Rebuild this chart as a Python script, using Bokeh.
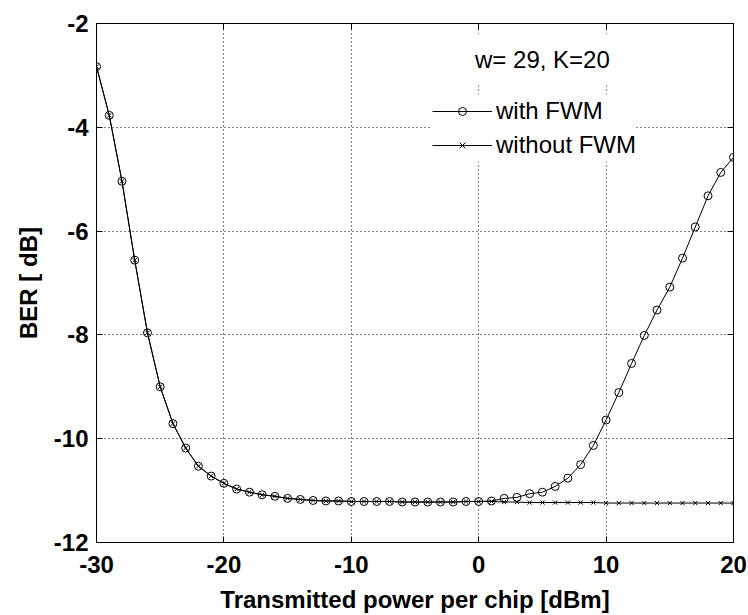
from bokeh.plotting import figure
from bokeh.models import (LinearAxis, Legend, LegendItem, Label, FixedTicker,
                          Range1d, PrintfTickFormatter)
from bokeh.embed import file_html
from bokeh.resources import INLINE

# ---- data ----
power_dbm = list(range(-30, 21))
ber_with_fwm = [
    -2.83, -3.77, -5.04, -6.56, -7.96, -9.00, -9.71, -10.18, -10.53, -10.72,
    -10.86, -10.97, -11.03, -11.08, -11.11, -11.15, -11.17, -11.19,
    -11.20, -11.20, -11.21, -11.21, -11.21, -11.21, -11.22, -11.22, -11.22,
    -11.22, -11.22, -11.21, -11.21, -11.20,
    -11.15, -11.13, -11.06, -11.03, -10.92, -10.76, -10.50, -10.13, -9.64,
    -9.11, -8.55, -8.01, -7.52, -7.08, -6.52, -5.92, -5.32, -4.87, -4.58,
]
ber_without_fwm = [
    -2.83, -3.77, -5.04, -6.56, -7.96, -9.00, -9.71, -10.18, -10.53, -10.72,
    -10.86, -10.97, -11.03, -11.08, -11.11, -11.15, -11.17, -11.19,
    -11.20, -11.20, -11.21, -11.21, -11.21, -11.21, -11.22, -11.22, -11.22,
    -11.22, -11.22, -11.21, -11.21, -11.21,
    -11.22, -11.22, -11.23, -11.23, -11.23, -11.23, -11.23, -11.23, -11.24,
    -11.24, -11.24, -11.24, -11.24, -11.24, -11.24, -11.24, -11.24, -11.24, -11.24,
]
x_ticks = [-30, -20, -10, 0, 10, 20]
y_ticks = [-12, -10, -8, -6, -4, -2]
series_labels = ["with FWM", "without FWM"]
annotation_text = "w= 29, K=20"

FONT = "Liberation Sans"

p = figure(width=748, height=615,
           x_range=Range1d(-30, 20), y_range=Range1d(-12, -2),
           output_backend="svg", toolbar_location=None,
           min_border_left=96, min_border_right=15,
           min_border_top=23, min_border_bottom=73)
p.background_fill_color = "white"
p.border_fill_color = "white"
p.outline_line_color = "black"
p.outline_line_width = 1

p.xaxis.ticker = FixedTicker(ticks=x_ticks)
p.yaxis.ticker = FixedTicker(ticks=y_ticks)
for ax in (p.xaxis[0], p.yaxis[0]):
    ax.formatter = PrintfTickFormatter(format="%d")
    ax.major_tick_in = 6
    ax.major_tick_out = 0
    ax.minor_tick_in = 0
    ax.minor_tick_out = 0
    ax.axis_line_color = "black"
    ax.major_tick_line_color = "black"
    ax.major_label_text_font = FONT
    ax.major_label_text_font_style = "bold"
    ax.major_label_text_font_size = "24px"
    ax.major_label_text_color = "black"
    ax.axis_label_text_font = FONT
    ax.axis_label_text_font_style = "bold"
    ax.axis_label_text_font_size = "24px"
    ax.axis_label_text_color = "black"
p.xaxis[0].axis_label = "Transmitted power per chip [dBm]"
p.yaxis[0].axis_label = "BER [ dB]"
p.xaxis[0].major_label_standoff = 13
p.xaxis[0].axis_label_standoff = 10
p.yaxis[0].major_label_standoff = 8
p.yaxis[0].axis_label_standoff = 9

top = LinearAxis(ticker=FixedTicker(ticks=x_ticks))
right = LinearAxis(ticker=FixedTicker(ticks=y_ticks))
for ax in (top, right):
    ax.major_tick_in = 6
    ax.major_tick_out = 0
    ax.minor_tick_in = 0
    ax.minor_tick_out = 0
    ax.major_label_text_font_size = "0px"
    ax.major_label_text_color = None
    ax.major_label_standoff = 0
    ax.axis_line_color = "black"
p.add_layout(top, "above")
p.add_layout(right, "right")

p.grid.grid_line_color = "black"
p.grid.grid_line_dash = "1 3"
p.grid.grid_line_width = 1
p.xgrid.ticker = FixedTicker(ticks=x_ticks)
p.ygrid.ticker = FixedTicker(ticks=y_ticks)

l2 = p.line(power_dbm, ber_without_fwm, line_color="black", line_width=1)
s2 = p.scatter(power_dbm, ber_without_fwm, marker="x", size=6,
               line_color="black", line_width=1)
l1 = p.line(power_dbm, ber_with_fwm, line_color="black", line_width=1)
s1 = p.scatter(power_dbm, ber_with_fwm, marker="circle", size=8,
               fill_color=None, line_color="black", line_width=1)

legend = Legend(items=[LegendItem(label=series_labels[0], renderers=[l1, s1]),
                       LegendItem(label=series_labels[1], renderers=[l2, s2])],
                location=(336, 380))
legend.background_fill_color = "white"
legend.background_fill_alpha = 1
legend.border_line_color = None
legend.label_text_font = FONT
legend.label_text_font_size = "24px"
legend.label_text_color = "black"
legend.glyph_width = 60
legend.glyph_height = 20
legend.label_height = 34
legend.spacing = 0
legend.padding = 10
legend.margin = 0
legend.label_standoff = 4
p.add_layout(legend)

lab = Label(x=5, y=-2.70, text=annotation_text, text_align="center",
            text_baseline="middle", text_font=FONT, text_font_size="24px",
            text_color="black", background_fill_color="white", padding=12)
p.add_layout(lab)

open("out.html", "w").write(file_html(p, INLINE))
